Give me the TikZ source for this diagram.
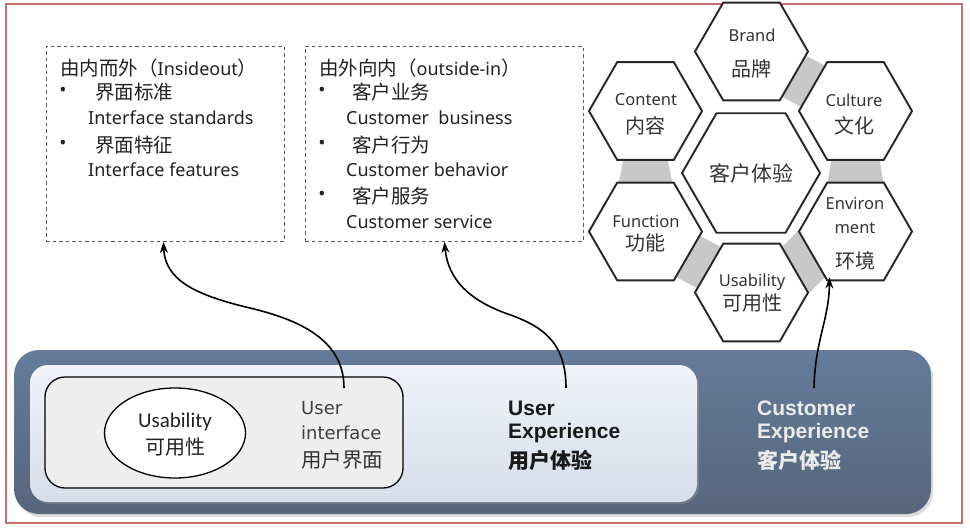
\documentclass[tikz,border=0pt]{standalone}
\usepackage{fontspec}
\setmainfont{Noto Sans}
\newfontfamily\cjk{Noto Sans CJK SC}
\newfontfamily\lib{Liberation Sans}
\newfontfamily\dvs{DejaVu Sans}
\newfontfamily\carl{Carlito}
\usetikzlibrary{arrows.meta,calc,shapes.geometric}
\definecolor{frame}{RGB}{196,110,110}
\definecolor{darkA}{RGB}{100,124,154}
\definecolor{darkB}{RGB}{86,102,124}
\definecolor{lightA}{RGB}{240,243,248}
\definecolor{lightB}{RGB}{214,222,234}
\definecolor{uibox}{RGB}{238,238,238}
\definecolor{band}{RGB}{200,200,200}
\definecolor{txt}{RGB}{34,34,34}
\tikzset{
  dbox/.style={draw=black!65, line width=0.9pt, dash pattern=on 3.5pt off 3pt, anchor=north west, inner sep=0pt},
  hexo/.style={regular polygon, regular polygon sides=6, minimum size=113pt, inner sep=0pt, draw=black!85, line width=1.9pt, fill=white},
  hexc/.style={hexo, minimum size=138pt},
  toplat/.style={anchor=west, inner sep=0pt, text=txt, font=\fontsize{18}{20}\selectfont},
  topcjk/.style={anchor=west, inner sep=0pt, text=txt, font=\cjk\fontsize{19.5}{22}\selectfont},
  bul/.style={anchor=center, inner sep=0pt, text=txt, font=\fontsize{19}{20}\selectfont},
  hlat/.style={inner sep=0pt, text=black!80, font=\fontsize{16.5}{20}\selectfont},
  hcjk/.style={inner sep=0pt, text=black!80, font=\cjk\fontsize{20}{22}\selectfont},
  conn/.style={line width=1.6pt, black, -{Stealth[length=11pt,width=8pt]}},
}
\begin{document}
\begin{tikzpicture}[x=1pt,y=-1pt]
\useasboundingbox (0,0) rectangle (970,530);
\fill[white] (0,0) rectangle (970,530);
\draw[frame, line width=1.2pt] (6,4) rectangle (962,523);

% ---------- dashed boxes ----------
\node[dbox, minimum width=238pt, minimum height=195pt] (box1) at (46,46) {};
\node[dbox, minimum width=278pt, minimum height=195pt] (box2) at (305,46) {};

\node[toplat] (t1) at (60,68) {{\cjk\fontsize{19.5}{22}\selectfont 由内而外（}Insideout{\cjk\fontsize{19.5}{22}\selectfont ）}};
\node[bul] (b11) at (63,92) {•};
\node[topcjk] (t11) at (95,92) {界面标准};
\node[toplat] (t12) at (88,118) {Interface standards};
\node[bul] (b12) at (63,145) {•};
\node[topcjk] (t13) at (95,145) {界面特征};
\node[toplat] (t14) at (88,170) {Interface features};

\node[toplat] (t2) at (319,68) {{\cjk\fontsize{19.5}{22}\selectfont 由外向内（}outside-in{\cjk\fontsize{19.5}{22}\selectfont ）}};
\node[bul] (b21) at (322,92) {•};
\node[topcjk] (t21) at (352,92) {客户业务};
\node[toplat] (t22) at (346,118) {Customer\ \ business};
\node[bul] (b22) at (322,145) {•};
\node[topcjk] (t23) at (352,145) {客户行为};
\node[toplat] (t24) at (346,170) {Customer behavior};
\node[bul] (b23) at (322,196) {•};
\node[topcjk] (t25) at (352,196) {客户服务};
\node[toplat] (t26) at (346,222) {Customer service};

% ---------- hexagons ----------
\coordinate (brandc) at (751.5,51.5);
\coordinate (contc) at (645.5,111);
\coordinate (cultc) at (855.5,111);
\coordinate (funcc) at (645.5,231.5);
\coordinate (envc) at (855.5,231.5);
\coordinate (usabc) at (751.5,292.5);
% gray bands
\fill[band] ($(brandc)+(30,45)$) -- ($(brandc)+(54,4)$) -- ($(cultc)+(-30,-45)$) -- ($(cultc)+(-54,-4)$) -- cycle;
\fill[band] ($(cultc)+(-24,48)$) -- ($(cultc)+(24,48)$) -- ($(envc)+(28,-48)$) -- ($(envc)+(-28,-48)$) -- cycle;
\fill[band] ($(usabc)+(30,-45)$) -- ($(envc)+(-54,-4)$) -- ($(envc)+(-30,45)$) -- ($(usabc)+(54,4)$) -- cycle;
\fill[band] ($(funcc)+(54,4)$) -- ($(usabc)+(-30,-45)$) -- ($(usabc)+(-54,-4)$) -- ($(funcc)+(30,45)$) -- cycle;
\fill[band] ($(contc)+(-22,48)$) -- ($(contc)+(22,48)$) -- ($(funcc)+(27,-48)$) -- ($(funcc)+(-27,-48)$) -- cycle;

\node[hexo] (brand) at (brandc) {};
\node[hexo] (content) at (contc) {};
\node[hexo] (culture) at (cultc) {};
\node[hexc] (center) at (751,173) {};
\node[hexo] (function) at (funcc) {};
\node[hexo] (env) at (envc) {};
\node[hexo] (usab) at (usabc) {};

\node[hlat] (brandL) at (752,35) {Brand};
\node[hcjk] (brandC) at (751,69) {品牌};
\node[hlat] (contL) at (646,100) {Content};
\node[hcjk] (contC) at (645,126) {内容};
\node[hlat] (cultL) at (854,100) {Culture};
\node[hcjk] (cultC) at (854,126) {文化};
\node[hcjk, font=\cjk\fontsize{21}{24}\selectfont] (centerC) at (751,173) {客户体验};
\node[hlat] (funcL) at (646,221) {Function};
\node[hcjk] (funcC) at (645,243) {功能};
\node[hlat] (envL1) at (855,204) {Environ};
\node[hlat] (envL2) at (855,228) {ment};
\node[hcjk] (envC) at (855,261) {环境};
\node[hlat] (usabL) at (752,282) {Usability};
\node[hcjk] (usabC) at (752,303) {可用性};

% ---------- bottom layers ----------
\fill[black!45, opacity=0.3, rounded corners=25pt] (16,353) rectangle (933,517);
\shade[top color=darkA, bottom color=darkB, rounded corners=25pt] (14,350) rectangle (931,514);
\fill[black!40, opacity=0.4, rounded corners=18pt] (32,368) rectangle (699,504);
\shade[top color=lightA, bottom color=lightB, rounded corners=18pt] (30,365) rectangle (697,502);
\draw[black, line width=1.3pt, fill=uibox, rounded corners=20pt] (45,377) rectangle (403,488);
\node[draw=black, line width=1.3pt, fill=white, ellipse, minimum width=141pt, minimum height=90pt, inner sep=0pt] (ell) at (175,433) {};
\node[inner sep=0pt, font=\carl\fontsize{21}{24}\selectfont, text=txt] (usL) at (175,422) {Usability};
\node[inner sep=0pt, font=\cjk\fontsize{20}{24}\selectfont, text=txt] (usC) at (175,447) {可用性};

\node[anchor=west, inner sep=0pt, font=\dvs\fontsize{18}{20}\selectfont, text=black!75] (ui1) at (301,408) {User};
\node[anchor=west, inner sep=0pt, font=\dvs\fontsize{18}{20}\selectfont, text=black!75] (ui2) at (301,433) {interface};
\node[anchor=west, inner sep=0pt, font=\cjk\fontsize{20.5}{22}\selectfont, text=black!80] (ui3) at (301,460) {用户界面};

\node[anchor=west, inner sep=0pt, font=\lib\bfseries\fontsize{21}{24}\selectfont, text=black!90] (ux1) at (508,408) {User};
\node[anchor=west, inner sep=0pt, font=\lib\bfseries\fontsize{21}{24}\selectfont, text=black!90] (ux2) at (508,433) {Experience};
\node[anchor=west, inner sep=0pt, font=\cjk\bfseries\fontsize{21}{24}\selectfont, text=black!90] (ux3) at (508,460) {用户体验};

\node[anchor=west, inner sep=0pt, font=\lib\bfseries\fontsize{21}{24}\selectfont, text=white!92!black] (cx1) at (757,408) {Customer};
\node[anchor=west, inner sep=0pt, font=\lib\bfseries\fontsize{21}{24}\selectfont, text=white!92!black] (cx2) at (757,433) {Experience};
\node[anchor=west, inner sep=0pt, font=\cjk\bfseries\fontsize{21}{24}\selectfont, text=white!92!black] (cx3) at (757,460) {客户体验};

% ---------- connectors ----------
\coordinate (s1) at (344,388);
\coordinate (s2) at (566,388);
\coordinate (s3) at (814,388);
\coordinate (e3) at ($(envc)+(-26,46)$);
\draw[conn] (s1) .. controls (344,340) and (300,320) .. (250,308) .. controls (195,295) and (165,280) .. ($(box1.south)+(-2,0)$);
\draw[conn] (s2) .. controls (566,340) and (540,325) .. (505,313) .. controls (470,300) and (448,280) .. (box2.south);
\draw[conn] (s3) .. controls (815,340) and (829,320) .. (e3);
\end{tikzpicture}
\end{document}
